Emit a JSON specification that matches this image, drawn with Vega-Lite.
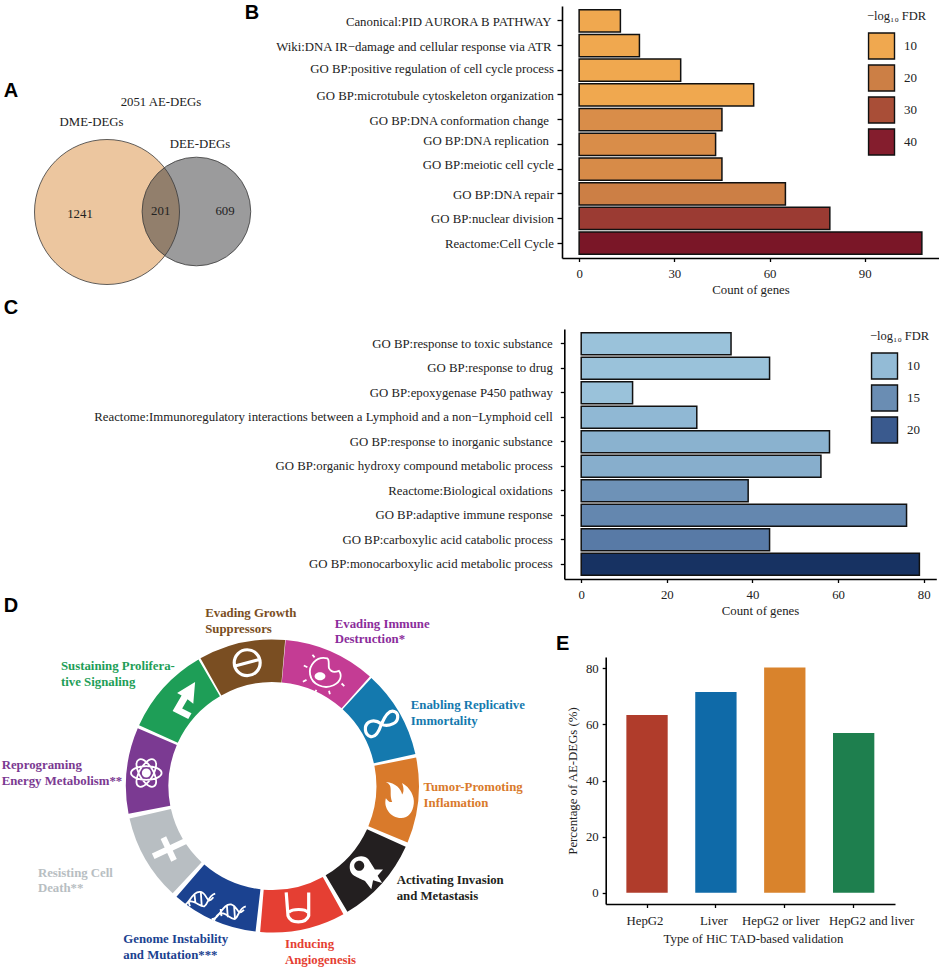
{
"$schema":"https://vega.github.io/schema/vega-lite/v6.json",
"padding":{"left":0,"top":3,"right":0,"bottom":0},
"background":"white",
"bounds":"flush",
"align":"none",
"columns":2,
"spacing":{"row":71,"column":0},
"config":{"view":{"stroke":null},
"axis":{"grid":false,"domainColor":"black","domainWidth":1.6,"tickColor":"black","tickWidth":1.3,"tickSize":3.5,"labelFont":"Liberation Serif","labelFontSize":12.8,"labelColor":"#222222","titleFont":"Liberation Serif","titleFontSize":12.8,"titleFontWeight":"normal","titleColor":"#222222","labelLimit":600},
"legend":{"titleFont":"Liberation Serif","titleFontSize":12.5,"titleFontWeight":"normal","titleColor":"#222222","labelFont":"Liberation Serif","labelFontSize":13,"labelColor":"#222222","symbolType":"M-.95,-1.18H1.41V1.18H-.95Z","symbolStrokeColor":"#111111","symbolStrokeWidth":1.4,"symbolOpacity":1,"rowPadding":0,"labelOffset":13,"titlePadding":11.5}},
"concat":[
{"width":562,"height":252,
"layer":[
{"data":{"values":[{"set":"DME-DEGs","x":107,"y":211,"count":1442}]},
"mark":{"type":"point","filled":true,"fill":"#D98E3F","fillOpacity":0.5,"stroke":"#3a3a3a","strokeWidth":0.8,"strokeOpacity":1,"opacity":1},
"encoding":{"x":{"field":"x","type":"quantitative","axis":null,"scale":{"domain":[0,562],"nice":false,"zero":false}},"y":{"field":"y","type":"quantitative","axis":null,"scale":{"domain":[257,5],"nice":false,"zero":false}},"size":{"field":"count","type":"quantitative","legend":null,"scale":{"domain":[0,1442],"range":[0,21025]}}}},
{"data":{"values":[{"set":"DEE-DEGs","x":196.4,"y":210.5,"count":810}]},
"mark":{"type":"point","filled":true,"fill":"#37373A","fillOpacity":0.5,"stroke":"#3a3a3a","strokeWidth":0.8,"strokeOpacity":1,"opacity":1},
"encoding":{"x":{"field":"x","type":"quantitative"},"y":{"field":"y","type":"quantitative"},"size":{"field":"count","type":"quantitative","legend":null}}},
{"data":{"values":[{"label":"2051 AE-DEGs","x":161,"y":100.7},{"label":"DME-DEGs","x":91.5,"y":121},{"label":"DEE-DEGs","x":200,"y":143},{"label":"1241","x":80,"y":213},{"label":"201","x":160.7,"y":210},{"label":"609","x":225,"y":210}]},
"mark":{"type":"text","font":"Liberation Serif","fontSize":12.8,"color":"#222222","align":"center","baseline":"middle"},
"encoding":{"x":{"field":"x","type":"quantitative"},"y":{"field":"y","type":"quantitative"},"text":{"field":"label"}}},
{"data":{"values":[{"label":"A","x":11,"y":90},{"label":"B","x":252,"y":12}]},
"mark":{"type":"text","font":"Liberation Sans","fontWeight":"bold","fontSize":20,"color":"black","align":"center","baseline":"middle"},
"encoding":{"x":{"field":"x","type":"quantitative"},"y":{"field":"y","type":"quantitative"},"text":{"field":"label"}}}
]},
{"width":377,"height":252,
"data":{"values":[
{"term":"Canonical:PID AURORA B PATHWAY","count":13,"fdr":10},
{"term":"Wiki:DNA IR−damage and cellular response via ATR","count":19,"fdr":10},
{"term":"GO BP:positive regulation of cell cycle process","count":32,"fdr":10},
{"term":"GO BP:microtubule cytoskeleton organization","count":55,"fdr":10},
{"term":"GO BP:DNA conformation change","count":45,"fdr":16.4},
{"term":"GO BP:DNA replication","count":43,"fdr":16.5},
{"term":"GO BP:meiotic cell cycle","count":45,"fdr":17},
{"term":"GO BP:DNA repair","count":65,"fdr":20},
{"term":"GO BP:nuclear division","count":79,"fdr":34},
{"term":"Reactome:Cell Cycle","count":108,"fdr":46}]},
"mark":{"type":"bar","stroke":"#111111","strokeWidth":1.5},
"encoding":{
"y":{"field":"term","type":"nominal","sort":null,"title":null,"scale":{"paddingInner":0.1,"paddingOuter":0.15},
"axis":{"labelPadding":3,"tickSize":5,"encoding":{"labels":{
"dx":{"value":{"expr":"indexof(['GO BP:DNA conformation change','GO BP:DNA replication'],datum.value)>=0?-5.5:(indexof(['Canonical:PID AURORA B PATHWAY','Wiki:DNA IR−damage and cellular response via ATR'],datum.value)>=0?-3:-0.5)"}},
"dy":{"value":{"expr":"datum.value=='GO BP:DNA replication'?-3.7:(datum.value=='GO BP:meiotic cell cycle'?-3.6:(datum.value=='GO BP:positive regulation of cell cycle process'?-1:1))"}}}}}},
"x":{"field":"count","type":"quantitative","title":"Count of genes","scale":{"domain":[-5.4,113.4],"nice":false,"zero":false},"axis":{"values":[0,30,60,90],"labelPadding":6,"titlePadding":3}},
"color":{"field":"fdr","type":"quantitative","scale":{"domain":[10,20,30,40,46],"range":["#F0A84F","#CC7F45","#A94E37","#841D2D","#7A1627"]},
"legend":{"type":"symbol","values":[10,20,30,40],"title":"−log₁₀ FDR","orient":"none","legendX":305,"legendY":4,"symbolSize":484}}}},
{"width":562,"height":257,
"data":{"values":[{"label":"C","x":11,"y":307}]},
"mark":{"type":"text","font":"Liberation Sans","fontWeight":"bold","fontSize":20,"color":"black","align":"center","baseline":"middle"},
"encoding":{"x":{"field":"x","type":"quantitative","axis":null,"scale":{"domain":[0,562],"nice":false,"zero":false}},"y":{"field":"y","type":"quantitative","axis":null,"scale":{"domain":[585,328],"nice":false,"zero":false}},"text":{"field":"label"}}},
{"width":374.3,"height":250,
"data":{"values":[
{"term":"GO BP:response to toxic substance","count":35,"fdr":9},
{"term":"GO BP:response to drug","count":44,"fdr":9},
{"term":"GO BP:epoxygenase P450 pathway","count":12,"fdr":9},
{"term":"Reactome:Immunoregulatory interactions between a Lymphoid and a non−Lymphoid cell","count":27,"fdr":10.3},
{"term":"GO BP:response to inorganic substance","count":58,"fdr":11},
{"term":"GO BP:organic hydroxy compound metabolic process","count":56,"fdr":11.4},
{"term":"Reactome:Biological oxidations","count":39,"fdr":14.5},
{"term":"GO BP:adaptive immune response","count":76,"fdr":15.6},
{"term":"GO BP:carboxylic acid catabolic process","count":44,"fdr":16.8},
{"term":"GO BP:monocarboxylic acid metabolic process","count":79,"fdr":24}]},
"mark":{"type":"bar","stroke":"#111111","strokeWidth":1.5},
"encoding":{
"y":{"field":"term","type":"nominal","sort":null,"title":null,"scale":{"paddingInner":0.1,"paddingOuter":0.15},"axis":{"labelPadding":8,"tickSize":4,"offset":-2.3}},
"x":{"field":"count","type":"quantitative","title":"Count of genes","scale":{"domain":[-3.95,82.95],"nice":false,"zero":false,"range":[2.3,374.3]},"axis":{"values":[0,20,40,60,80],"labelPadding":6,"titlePadding":3,"titleX":198}},
"color":{"field":"fdr","type":"quantitative","scale":{"domain":[9,10,15,20,24],"range":["#9AC2DA","#93BBD6","#6A8DB3","#3A5A8E","#173262"]},
"legend":{"type":"symbol","values":[10,15,20],"title":"−log₁₀ FDR","orient":"none","legendX":308,"legendY":1,"symbolSize":484}}}},
{"width":562,"height":247,
"layer":[
{"data":{"values":[
{"hallmark":"Evading Immune","start":5.2,"end":41.7},
{"hallmark":"Enabling Replicative","start":42.5,"end":77.4},
{"hallmark":"Tumor-Promoting","start":78.8,"end":112.7},
{"hallmark":"Activating Invasion","start":114.5,"end":149.2},
{"hallmark":"Inducing Angiogenesis","start":151,"end":184.8},
{"hallmark":"Genome Instability","start":186.6,"end":220.9},
{"hallmark":"Resisting Cell Death","start":222.9,"end":257.2},
{"hallmark":"Reprograming","start":259.1,"end":293.2},
{"hallmark":"Sustaining Proliferative","start":294.5,"end":329.7},
{"hallmark":"Evading Growth","start":330.6,"end":365}]},
"mark":{"type":"arc","outerRadius":146.5,"innerRadius":104},
"encoding":{
"x":{"datum":272.4,"type":"quantitative","axis":null,"scale":{"domain":[0,562],"nice":false,"zero":false}},
"y":{"datum":785,"type":"quantitative","axis":null,"scale":{"domain":[903,656],"nice":false,"zero":false}},
"theta":{"field":"start","type":"quantitative","scale":{"domain":[0,360],"range":[0,6.28319]}},
"theta2":{"field":"end"},
"color":{"field":"hallmark","type":"nominal","legend":null,"scale":{"domain":["Evading Immune","Enabling Replicative","Tumor-Promoting","Activating Invasion","Inducing Angiogenesis","Genome Instability","Resisting Cell Death","Reprograming","Sustaining Proliferative","Evading Growth","Evading Immune text"],"range":["#C43C94","#1479AE","#D97A2B","#231F20","#E53F33","#1B4290","#B8BEC2","#7B3A92","#1E9E57","#7A4E22","#8B2C9B"]}}}},
{"data":{"name":"icons","values":[
{"icon":"arrow","kind":"fill","x":182.5,"y":700},
{"icon":"flame","kind":"fill","x":399.4,"y":799},
{"icon":"ghost","kind":"fill","x":365,"y":872},
{"icon":"plus","kind":"fill","x":168.7,"y":848},
{"icon":"nucleus","kind":"fill","x":325.4,"y":671.7},
{"icon":"atomcore","kind":"fill","x":146.3,"y":772},
{"icon":"bar","kind":"thick","x":247.2,"y":661.7},
{"icon":"infinity","kind":"thick","x":381.5,"y":723},
{"icon":"tube","kind":"thick","x":297.9,"y":906.7},
{"icon":"cell","kind":"thin","x":325.4,"y":671.7},
{"icon":"atom","kind":"thin","x":146.3,"y":772},
{"icon":"dna","kind":"thin","x":217,"y":901.7}]},
"transform":[{"filter":"datum.kind == 'fill'"}],
"mark":{"type":"point","filled":true,"fill":"white","stroke":null,"opacity":1,"size":1296},
"encoding":{"x":{"field":"x","type":"quantitative"},"y":{"field":"y","type":"quantitative"},
"shape":{"field":"icon","type":"nominal","legend":null,"scale":{"domain":["arrow","flame","ghost","plus","nucleus","atomcore","bar","infinity","tube","cell","atom","dna"],"range":[
"M.7,-1.05L.6,.15L.28,-.1L-.02,.42L.5,.68L.32,1L-.55,.55L-.05,-.3L-.3,-.45Z",
"M.1,1C-.5,1,-.9,.4,-.75,-.1C-.6,.1,-.5,.15,-.4,.1C-.6,-.4,-.3,-.8,-.75,-1C-.2,-.95,.1,-.6,.15,-.3C.3,-.5,.2,-.8,.15,-.95C.6,-.7,.85,-.2,.8,.2C.75,.7,.5,1,.1,1Z",
"M-.85,-.35C-.85,-.9,-.1,-1.1,.2,-.75L.55,-.2L1,-.2L.7,.15L.95,.55L.45,.4L.35,.9L0,.45C-.4,.2,-.85,.2,-.85,-.35ZM-.6,-.4A.28,.28,0,0,0,-.04,-.4A.28,.28,0,0,0,-.6,-.4Z",
"M.879,-.598L1.023,-.29L.226,.082L.45,.562L.142,.706L-.082,.226L-.789,.556L-.933,.248L-.226,-.082L-.45,-.562L-.142,-.706L.082,-.226Z",
"M-.6,.2A.3,.22,0,1,1,0,.2A.3,.22,0,1,1,-.6,.2Z",
"M-.25,0A.25,.25,0,1,1,.25,0A.25,.25,0,1,1,-.25,0Z",
"M-.72,0A.72,.72,0,1,1,.72,0A.72,.72,0,1,1,-.72,0ZM-.68,.18L.68,-.18",
"M0,0C.15,-.35,.4,-.8,.7,-.7C1,-.6,.95,-.15,.65,-.02C.4,.1,.15,.1,0,0C-.2,-.15,-.45,-.25,-.7,-.1C-1,.1,-.95,.6,-.6,.7C-.3,.78,-.12,.35,0,0Z",
"M-.65,-.85L-.55,.45C-.4,.9,.45,.9,.6,.45L.6,-.85M-.5,.25C-.3,.05,.4,.05,.55,.25",
"M.1,-.8C-.5,-.95,-.95,-.4,-.85,.1C-.75,.65,-.1,.95,.45,.7C.85,.5,.95,.15,.75,-.1C.5,0,.3,-.05,.2,-.25C.15,-.45,.25,-.7,.1,-.8ZM-.6,-.85L-.72,-1M-1,-.3L-1.2,-.4M-1.05,.4L-1.25,.5M-.5,.95L-.6,1.15M.2,1L.25,1.2M.9,.6L1.05,.75",
"M-.85,0A.85,.38,0,1,1,.85,0A.85,.38,0,1,1,-.85,0ZM-.425,-.736A.85,.38,60,1,1,.425,.736A.85,.38,60,1,1,-.425,-.736ZM.425,-.736A.85,.38,120,1,1,-.425,.736A.85,.38,120,1,1,.425,-.736Z",
"M-2,.2C-1.6,.3,-1.4,-.7,-.9,-.6C-.5,-.5,-.6,.2,-.2,-.3M-1.9,.4C-1.5,-.6,-1,.3,-.7,.2C-.5,.1,-.5,-.4,-.1,-.5M-1.6,-.1L-1.5,.2M-1.25,-.45L-1.2,0M-.9,-.6L-.85,.15M-.3,.9C.1,1,.3,0,.8,.1C1.2,.2,1.1,.8,1.5,.4M-.2,1.1C.2,0,.7,1,1,.9C1.2,.8,1.2,.3,1.6,.2M.2,.35L.25,.75M.55,.15L.6,.8M.95,.2L1,.9"
]}}}},
{"data":{"name":"icons"},
"transform":[{"filter":"datum.kind == 'thick'"}],
"mark":{"type":"point","filled":false,"stroke":"white","strokeWidth":3.2,"opacity":1,"size":1296},
"encoding":{"x":{"field":"x","type":"quantitative"},"y":{"field":"y","type":"quantitative"},"shape":{"field":"icon","type":"nominal","legend":null}}},
{"data":{"name":"icons"},
"transform":[{"filter":"datum.kind == 'thin'"}],
"mark":{"type":"point","filled":false,"stroke":"white","strokeWidth":1.8,"opacity":1,"size":1296},
"encoding":{"x":{"field":"x","type":"quantitative"},"y":{"field":"y","type":"quantitative"},"shape":{"field":"icon","type":"nominal","legend":null}}},
{"data":{"values":[
{"hallmark":"Evading Growth","label":"Evading Growth","x":205.2,"y":612},
{"hallmark":"Evading Growth","label":"Suppressors","x":205.2,"y":628.3},
{"hallmark":"Evading Immune text","label":"Evading Immune","x":334.7,"y":622.7},
{"hallmark":"Evading Immune text","label":"Destruction*","x":334.7,"y":638.3},
{"hallmark":"Enabling Replicative","label":"Enabling Replicative","x":410.8,"y":704},
{"hallmark":"Enabling Replicative","label":"Immortality","x":410.8,"y":720},
{"hallmark":"Tumor-Promoting","label":"Tumor-Promoting","x":423.6,"y":785.7},
{"hallmark":"Tumor-Promoting","label":"Inflamation","x":423.6,"y":801.7},
{"hallmark":"Activating Invasion","label":"Activating Invasion","x":396.7,"y":879.3},
{"hallmark":"Activating Invasion","label":"and Metastasis","x":396.7,"y":895.3},
{"hallmark":"Inducing Angiogenesis","label":"Inducing","x":285,"y":942.7},
{"hallmark":"Inducing Angiogenesis","label":"Angiogenesis","x":285,"y":958.7},
{"hallmark":"Genome Instability","label":"Genome Instability","x":123.3,"y":938},
{"hallmark":"Genome Instability","label":"and Mutation***","x":123.3,"y":954},
{"hallmark":"Resisting Cell Death","label":"Resisting Cell","x":37.9,"y":871.7},
{"hallmark":"Resisting Cell Death","label":"Death**","x":37.9,"y":887.3},
{"hallmark":"Reprograming","label":"Reprograming","x":1.7,"y":764.3},
{"hallmark":"Reprograming","label":"Energy Metabolism**","x":1.7,"y":780.3},
{"hallmark":"Sustaining Proliferative","label":"Sustaining Prolifera-","x":61,"y":665.3},
{"hallmark":"Sustaining Proliferative","label":"tive Signaling","x":61,"y":681.3}]},
"mark":{"type":"text","font":"Liberation Serif","fontWeight":"bold","fontSize":12.8,"align":"left","baseline":"middle"},
"encoding":{"x":{"field":"x","type":"quantitative"},"y":{"field":"y","type":"quantitative"},"text":{"field":"label"},"color":{"field":"hallmark","type":"nominal","legend":null}}},
{"data":{"values":[{"label":"D","x":11,"y":605},{"label":"E","x":562.7,"y":643}]},
"mark":{"type":"text","font":"Liberation Sans","fontWeight":"bold","fontSize":20,"color":"black","align":"center","baseline":"middle"},
"encoding":{"x":{"field":"x","type":"quantitative"},"y":{"field":"y","type":"quantitative"},"text":{"field":"label"}}}
]},
{"width":333,"height":247,
"data":{"values":[
{"type":"HepG2","pct":63.3},
{"type":"Liver","pct":71.5},
{"type":"HepG2 or liver","pct":80.3},
{"type":"HepG2 and liver","pct":56.9}]},
"mark":{"type":"bar"},
"encoding":{
"x":{"field":"type","type":"nominal","sort":null,"title":"Type of HiC TAD-based validation","scale":{"paddingInner":0.4,"paddingOuter":0.3,"range":[43.7,333]},
"axis":{"labelAngle":0,"labelPadding":7,"titlePadding":5,"titleX":191,"encoding":{"labels":{"dx":{"value":{"expr":"datum.value=='HepG2 and liver'?18:(datum.value=='HepG2 or liver'?-4:-2)"}}}}}},
"y":{"field":"pct","type":"quantitative","title":"Percentage of AE-DEGs (%)","scale":{"domain":[-4,84],"nice":false,"zero":false},"axis":{"values":[0,20,40,60,80],"labelPadding":4,"titlePadding":6,"offset":-43.7}},
"color":{"field":"type","type":"nominal","legend":null,"scale":{"domain":["HepG2","Liver","HepG2 or liver","HepG2 and liver"],"range":["#B03C2B","#0F6AA8","#D9832C","#1E7F4E"]}}}}
]}
